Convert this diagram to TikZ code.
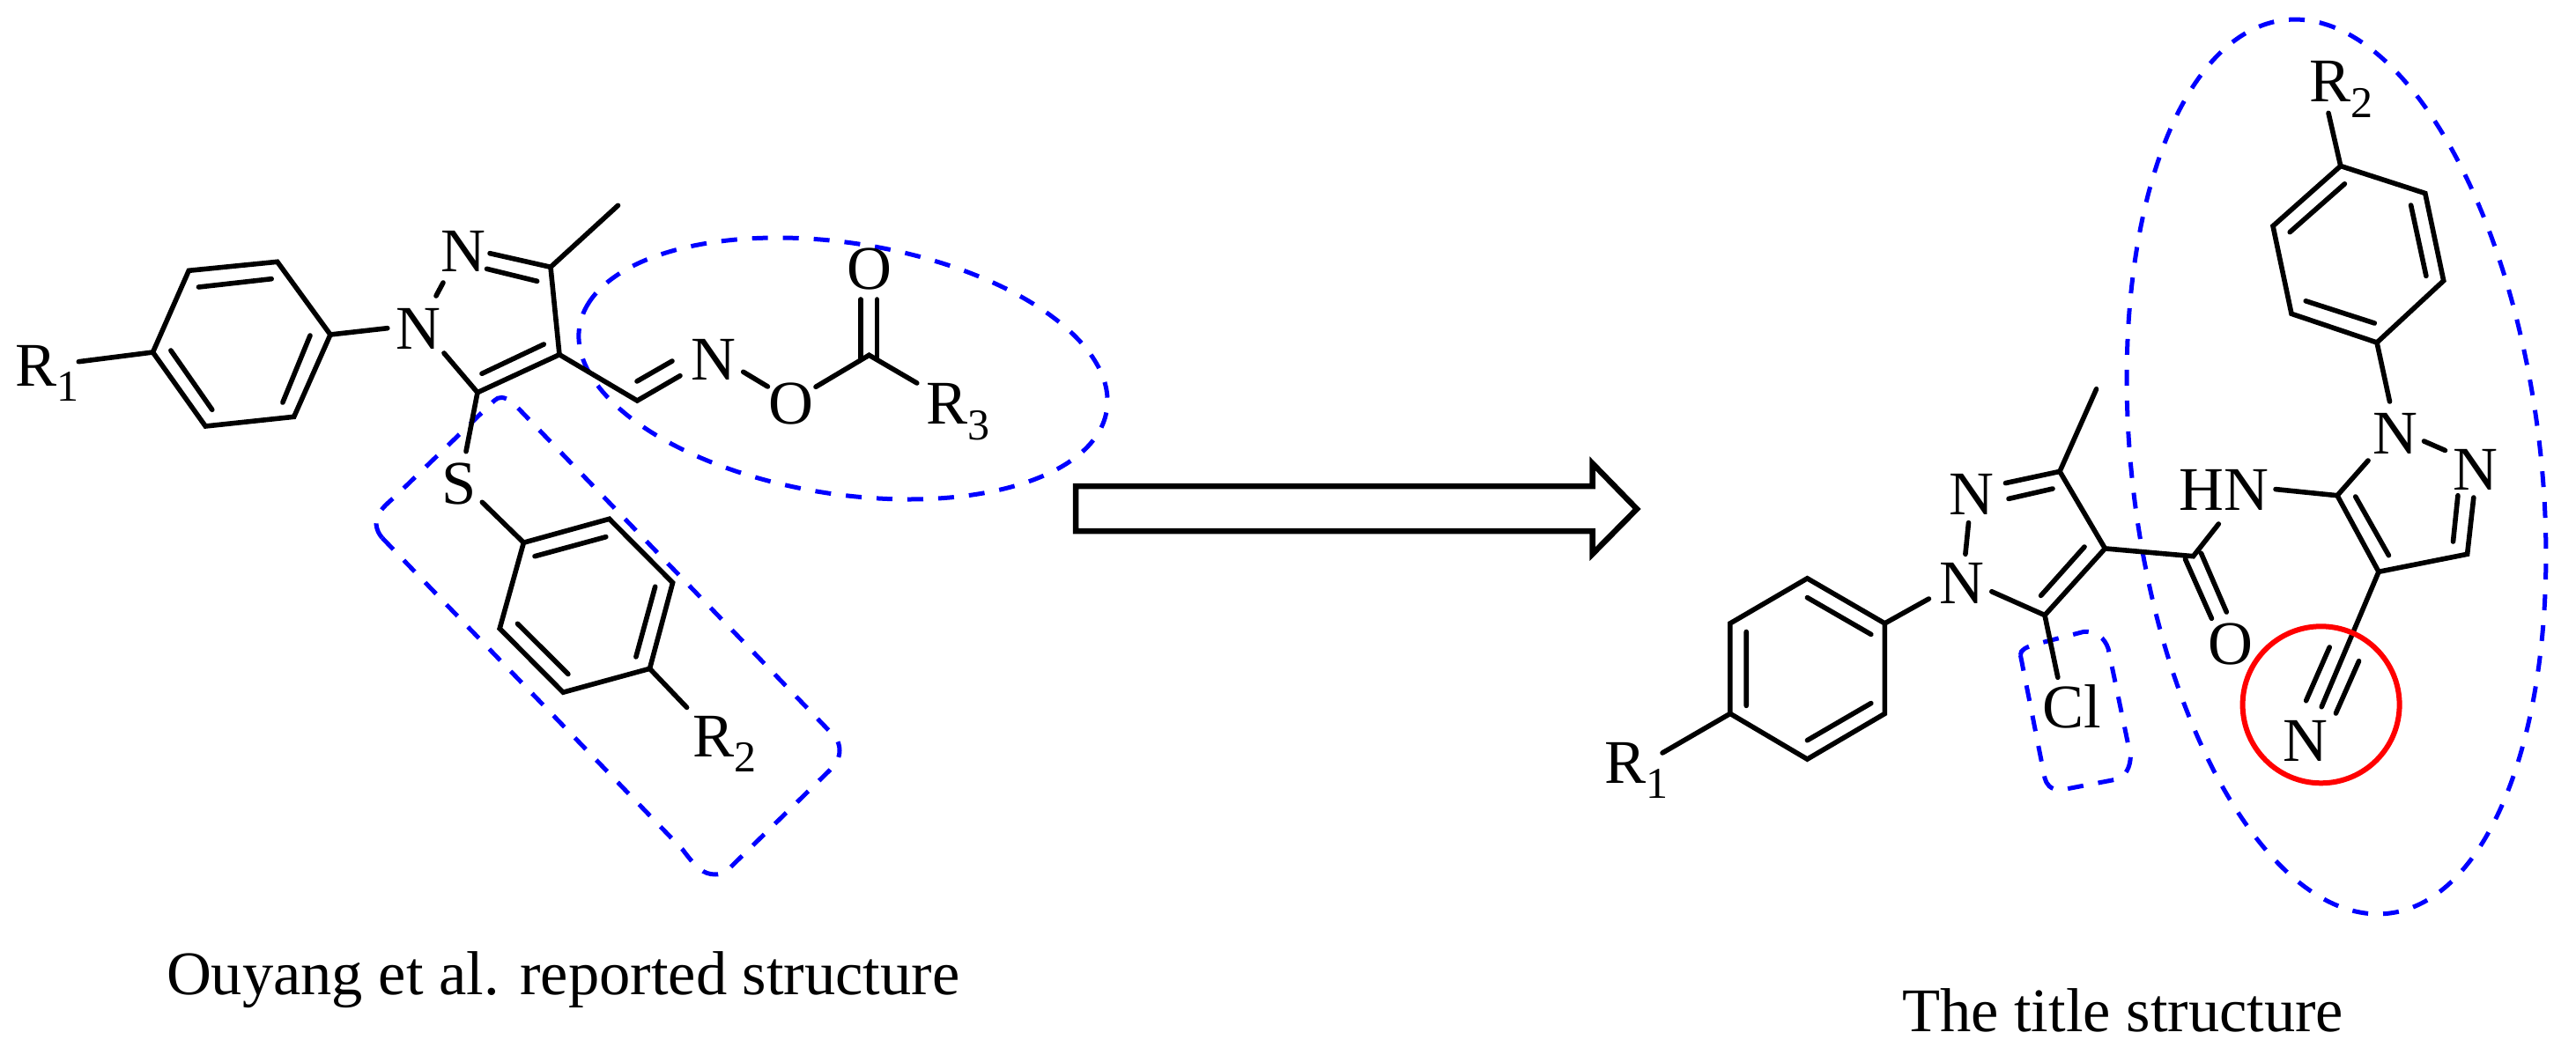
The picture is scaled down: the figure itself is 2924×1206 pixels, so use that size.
\documentclass[tikz,border=0pt]{standalone}
\usepackage{fontspec}
\setmainfont{Liberation Serif}
\newcommand{\subs}[1]{\raisebox{-17.5pt}{\fontsize{50}{50}\selectfont #1}}
\tikzset{
  atom/.style={inner sep=0pt,outer sep=0pt,anchor=base,font=\fontsize{70.5}{80}\selectfont},
  rlabel/.style={inner sep=0pt,outer sep=0pt,anchor=base west,font=\fontsize{70.5}{80}\selectfont},
  caption/.style={inner sep=0pt,outer sep=0pt,anchor=base west,font=\fontsize{70.5}{80}\selectfont},
  bond/.style={draw=black,line width=5.6pt,line cap=round,line join=miter},
  ringb/.style={draw=black,line width=5.6pt,line join=miter},
  blueline/.style={draw=blue,line width=5pt,dash pattern=on 18pt off 17pt},
  redring/.style={draw=red,line width=6pt},
  bigarrow/.style={draw=black,line width=6.5pt,line join=miter,fill=white}
}
\begin{document}
\begin{tikzpicture}[x=1pt,y=-1pt]
\useasboundingbox (0,0) rectangle (2924,1206);
% named points of the left structure
\foreach \n/\x/\y in {
 la/173.5/400, lb/214.3/307.3, lc/314.8/297.3, ld/375/380, le/333.7/473.3, lf/233.2/484,
 lp1/225.5/326, lp2/308.2/316.7, lp3/352/381, lp4/320.9/457, lp5/193.9/398, lp6/240.8/465.3,
 lr1/89.3/410.7, ln1a/439.8/372.7, lnn1/503/321, lnn2/495/336,
 lc3/625/303.3, lme/701.5/233.3, lcn1/556/287.7, lcn2/609.7/319.3, lcn3/552.5/305.3,
 lc4/635/402.7, lc5/542/445.7, lp7/617.3/391, lp8/547/424.3, ln1b/504/401, ls1/529/512.7,
 ls2/547.3/570.3,
 ma/594.4/616.2, mb/691.6/589.3, mc/763.6/661.7, md/737.5/759.3, me/639.2/786.2, mf/567.2/713.8,
 mp1/607/631.7, mp2/687.8/609.7, mp3/743.7/666.2, mp4/721.9/745.9, mp5/587.5/708.3, mp6/644.9/765.5,
 mr2/779.6/803.4,
 lch/723.3/455, lim1/772/426.7, lim2/723/433, lim3/763/410,
 lno1/843.7/422.3, lno2/871.4/439, loc1/926/439.3, lco/986.5/403.3,
 lo1/977/340, lo2/977/406.7, lo3/995.5/340, lo4/995.5/405.7, lr3/1040.8/435}
 {\coordinate (\n) at (\x,\y);}
% named points of the right structure
\foreach \n/\x/\y in {
 ra/2051.4/656.8, rb/2139.4/707.9, rc/2139.4/810.4, rd/2051.4/862.1, re/1963.9/810.4, rf/1963.9/707.9,
 rp1/2051.4/678.6, rp2/2123.8/720.4, rp3/2123.8/798.6, rp4/2051.4/840.7, rp5/1982.2/717.5, rp6/1982.2/801.4,
 rr1/1887/855, rn1a/2189.4/680, rnn1/2234.5/593.6, rnn2/2230.9/629.3,
 rc3/2338/535.4, rme/2379.6/441.8, rcn1/2276.4/548.6, rcn2/2330/555, rcn3/2280/566.4,
 rc4/2389.4/622.9, rc5/2321/698.6, rp7/2366/621, rp8/2316.6/676.4, rn1b/2260.8/671.8, rcl/2335.8/769.3,
 rco/2489.5/631.7, rnh/2518.3/595, ro1/2480.5/635, ro2/2510.4/702.3, ro3/2498.5/628.3, ro4/2527.3/695,
 rh1/2583/555.6, pc5/2653/562.7, pn1/2688/523, pn2/2751.4/501, pn3/2775.5/511.5,
 pn4/2807.8/565, pc3/2800.6/629.3, pp1/2789.9/562.7, pp2/2784.5/615,
 pc4/2700/649.3, pp3/2673.7/564, pp4/2711.4/630.7,
 cn1/2635.2/802.7, cn2/2644.2/735, cn3/2617.6/795.7, cn4/2677.6/750.7, cn5/2651.4/810,
 pr1/2712.5/456, sa/2698/389, sb/2773.7/318.8, sc/2752.8/219.5, sd/2656.8/188.5, se/2580/256.7, sf/2601/356.3,
 sp1/2753.9/313.4, sp2/2736.6/233, sp3/2661.4/208.8, sp4/2599.2/263.6, sp5/2617.2/341.8, sp6/2695.3/367,
 sr2/2643/128.4}
 {\coordinate (\n) at (\x,\y);}
% blue outlines
\draw[blueline] plot[domain=190:550,samples=140,smooth,variable=\t]
  ({957+303*cos(\t)*cos(9)-142.5*sin(\t)*sin(9)},{418.5+303*cos(\t)*sin(9)+142.5*sin(\t)*cos(9)});
\draw[blueline] plot[domain=-80:280,samples=140,smooth,variable=\t]
  ({2652+232*cos(\t)*cos(6.67)+510.7*sin(\t)*sin(6.67)},{530-232*cos(\t)*sin(6.67)+510.7*sin(\t)*cos(6.67)});
\draw[blueline] (434,611) -- (775,965) .. controls (790,985) and (798,993) .. (812,993)
  .. controls (820,993) and (824,990) .. (829,985) -- (941.5,875)
  .. controls (950,866) and (953,860) .. (953,852) .. controls (953,846) and (951,842) .. (949,838)
  -- (581.6,456.7) .. controls (572,450) and (566,450) .. (561,455) -- (447.8,564.5)
  .. controls (432,578) and (427,585) .. (427,595) .. controls (428,603) and (430,606) .. (434,611);
\draw[blueline] (2293.4,744) -- (2321,883.6) .. controls (2323,890) and (2326,897) .. (2340,897)
  -- (2400.5,885.4) .. controls (2414,882) and (2418,870) .. (2418.4,858.6) -- (2393,736.4)
  .. controls (2389,725) and (2380,716) .. (2364.8,717.5) -- (2309,732)
  .. controls (2300,735) and (2293,738) .. (2293.4,744);
% left bonds
\draw[ringb] (la) -- (lb) -- (lc) -- (ld) -- (le) -- (lf) -- cycle;
\draw[bond] (lp1) -- (lp2) (lp3) -- (lp4) (lp5) -- (lp6) (lr1) -- (la) (ld) -- (ln1a) (lnn1) -- (lnn2);
\draw[bond] (lme) -- (lc3) -- (lc4) -- (lc5) -- (ln1b);
\draw[bond] (lc3) -- (lcn1) (lcn2) -- (lcn3) (lp7) -- (lp8) (lc5) -- (ls1) (ls2) -- (ma);
\draw[ringb] (ma) -- (mb) -- (mc) -- (md) -- (me) -- (mf) -- cycle;
\draw[bond] (mp1) -- (mp2) (mp3) -- (mp4) (mp5) -- (mp6) (md) -- (mr2);
\draw[bond] (lc4) -- (lch) -- (lim1) (lim2) -- (lim3) (lno1) -- (lno2) (loc1) -- (lco) -- (lr3);
\draw[bond] (lo1) -- (lo2) (lo3) -- (lo4);
% right bonds
\draw[ringb] (ra) -- (rb) -- (rc) -- (rd) -- (re) -- (rf) -- cycle;
\draw[bond] (rp1) -- (rp2) (rp3) -- (rp4) (rp5) -- (rp6) (re) -- (rr1) (rb) -- (rn1a) (rnn1) -- (rnn2);
\draw[bond] (rme) -- (rc3) -- (rc4) -- (rc5) -- (rn1b);
\draw[bond] (rc3) -- (rcn1) (rcn2) -- (rcn3) (rp7) -- (rp8) (rc5) -- (rcl);
\draw[bond] (rc4) -- (rco) -- (rnh) (ro1) -- (ro2) (ro3) -- (ro4);
\draw[bond] (rh1) -- (pc5) -- (pc4) -- (pc3) -- (pn4) (pc5) -- (pn1) (pn2) -- (pn3) (pp1) -- (pp2) (pp3) -- (pp4);
\draw[bond] (pc4) -- (cn1) (cn2) -- (cn3) (cn4) -- (cn5);
\draw[ringb] (sa) -- (sb) -- (sc) -- (sd) -- (se) -- (sf) -- cycle;
\draw[bond] (pr1) -- (sa) (sp1) -- (sp2) (sp3) -- (sp4) (sp5) -- (sp6) (sd) -- (sr2);
% red ring
\node[redring,circle,minimum size=178pt,inner sep=0pt] (redc) at (2634.6,800.3) {};
% block arrow
\draw[bigarrow] (1221,552) -- (1807.7,552) -- (1807.7,526.4) -- (1858,578) -- (1807.7,629) -- (1807.7,603) -- (1221,603) -- cycle;
% left labels
\node[rlabel] (r1l) at (17.9,438.3) {R\subs{1}};
\node[atom] (nl1) at (474.5,396) {N};
\node[atom] (nl2) at (525.5,309) {N};
\node[atom] (sl) at (521.4,572) {S};
\node[rlabel] (r2l) at (786.5,859) {R\subs{2}};
\node[atom] (niml) at (809.8,431) {N};
\node[atom] (oel) at (898,481) {O};
\node[atom] (ocl) at (986.5,329) {O};
\node[rlabel] (r3l) at (1051.8,481.7) {R\subs{3}};
% right labels
\node[rlabel] (r1r) at (1821.5,889) {R\subs{1}};
\node[atom] (nr1) at (2227.3,685) {N};
\node[atom] (nr2) at (2237.6,584) {N};
\node[atom] (clr) at (2352,826) {Cl};
\node[atom] (hnr) at (2524,579) {HN};
\node[atom] (oar) at (2531.6,754) {O};
\node[atom] (np1) at (2718.6,515) {N};
\node[atom] (np2) at (2809.6,556) {N};
\node[atom] (ncn) at (2616.5,864) {N};
\node[rlabel] (r2r) at (2621.5,116) {R\subs{2}};
% captions
\node[caption] (cap1) at (189,1129) {Ouyang et al. reported structure};
\node[caption] (cap2) at (2159,1171.7) {The title structure};
\end{tikzpicture}
\end{document}
